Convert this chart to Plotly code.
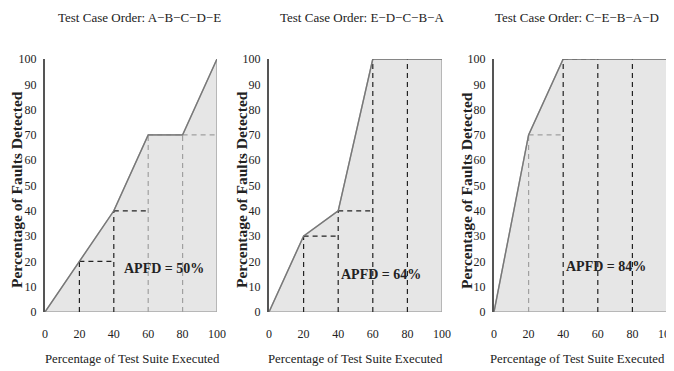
import plotly.graph_objects as go

# ---- data ----
executed_pct = [0, 20, 40, 60, 80, 100]
faults_abcde = [0, 20, 40, 70, 70, 100]
faults_edcba = [0, 30, 40, 100, 100, 100]
faults_cebad = [0, 70, 100, 100, 100, 100]
orders = ["A−B−C−D−E", "E−D−C−B−A", "C−E−B−A−D"]
apfd_values = ["50%", "64%", "84%"]
tick_vals = [0, 20, 40, 60, 80, 100]
ytick_vals = [0, 10, 20, 30, 40, 50, 60, 70, 80, 90, 100]

series = [faults_abcde, faults_edcba, faults_cebad]

# ---- layout helpers (page has an 8px body margin) ----
PAGE_MARGIN = 8
W, H = 674 - PAGE_MARGIN, 371 - PAGE_MARGIN


def px(x):
    return (x - PAGE_MARGIN) / W


def py(y):
    return 1 - (y - PAGE_MARGIN) / H


# ---- styles ----
BLACK = "#222222"
GRAY = "#a0a0a0"
vcolors = [[BLACK, BLACK, GRAY, GRAY], [BLACK] * 4, [GRAY, BLACK, BLACK, BLACK]]
hcolors = [[BLACK, BLACK, GRAY, GRAY], [BLACK, BLACK, None, None], [GRAY, BLACK, None, None]]
x_px = [(45, 217), (269, 442), (494, 667)]
apfd_pos = [(69, 17), (65, 15), (65, 18)]
title_x = [139, 362, 577]
xtitle_x = [132, 355, 577]
ytitle_x = [17, 242, 467]
SERIF = "Liberation Serif, serif"

fig = go.Figure()
layout = dict(
    width=W, height=H, margin=dict(l=0, r=0, t=0, b=0, autoexpand=False),
    paper_bgcolor="white", plot_bgcolor="white", showlegend=False,
    annotations=[],
)

for p, ys in enumerate(series):
    sfx = "" if p == 0 else str(p + 1)
    xa, ya = "x" + sfx, "y" + sfx
    # filled area polygon
    fig.add_trace(go.Scatter(
        x=executed_pct + [executed_pct[-1], executed_pct[0]],
        y=ys + [0, 0], mode="lines", fill="toself", fillcolor="#e6e6e6",
        line=dict(color="#a8a8a8", width=1.5), xaxis=xa, yaxis=ya, hoverinfo="skip"))
    # dashed step outlines
    for i in range(1, 5):
        xv, yv = executed_pct[i], ys[i]
        if vcolors[p][i - 1]:
            fig.add_trace(go.Scatter(x=[xv, xv], y=[0, yv], mode="lines",
                                     line=dict(color=vcolors[p][i - 1], width=1.2, dash="5px,4px"),
                                     xaxis=xa, yaxis=ya, hoverinfo="skip"))
        if hcolors[p][i - 1]:
            fig.add_trace(go.Scatter(x=[xv, executed_pct[i + 1]], y=[yv, yv], mode="lines",
                                     line=dict(color=hcolors[p][i - 1], width=1.2, dash="5px,4px"),
                                     xaxis=xa, yaxis=ya, hoverinfo="skip"))
    # curve
    fig.add_trace(go.Scatter(x=executed_pct, y=ys, mode="lines",
                             line=dict(color="#777777", width=1.3),
                             xaxis=xa, yaxis=ya, hoverinfo="skip"))

    layout["xaxis" + sfx] = dict(
        domain=[px(x_px[p][0]), px(x_px[p][1])], range=[0, 100], anchor=ya,
        showgrid=False, zeroline=False, showline=False, tickvals=tick_vals,
        ticks="outside", ticklen=11, automargin=False, tickcolor="rgba(0,0,0,0)",
        ticklabeloverflow="allow",
        tickfont=dict(family=SERIF, size=12, color=BLACK))
    layout["yaxis" + sfx] = dict(
        domain=[py(312), py(59)], range=[0, 100], anchor=xa, showgrid=False,
        zeroline=False, showline=True, linecolor="#555555", linewidth=2,
        tickvals=ytick_vals, ticks="outside", ticklen=4, tickcolor="rgba(0,0,0,0)",
        automargin=False, tickfont=dict(family=SERIF, size=12, color=BLACK))

    layout["annotations"] += [
        dict(text="Test Case Order: " + orders[p], x=px(title_x[p]), y=py(17),
             xref="paper", yref="paper", showarrow=False, xanchor="center", yanchor="middle",
             font=dict(family=SERIF, size=13, color=BLACK)),
        dict(text="Percentage of Test Suite Executed", x=px(xtitle_x[p]), y=py(359),
             xref="paper", yref="paper", showarrow=False, xanchor="center", yanchor="middle",
             font=dict(family=SERIF, size=12.8, color=BLACK)),
        dict(text="<b>Percentage of Faults Detected</b>", x=px(ytitle_x[p]), y=py(190),
             xref="paper", yref="paper", showarrow=False, textangle=-90,
             xanchor="center", yanchor="middle",
             font=dict(family=SERIF, size=15.5, color=BLACK)),
        dict(text="<b>APFD = " + apfd_values[p] + "</b>", x=apfd_pos[p][0], y=apfd_pos[p][1],
             xref=xa, yref=ya, showarrow=False, xanchor="center", yanchor="middle",
             font=dict(family=SERIF, size=14, color=BLACK)),
    ]

fig.update_layout(**layout)
fig.write_html("out.html")
